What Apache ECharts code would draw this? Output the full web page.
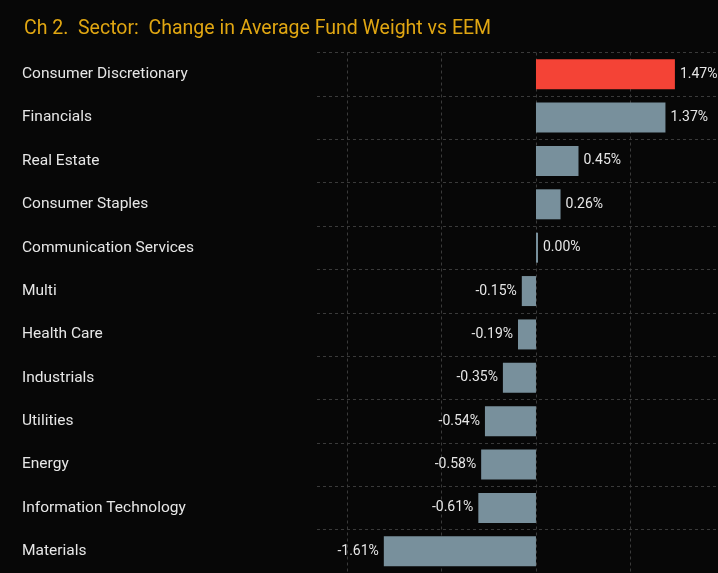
<!DOCTYPE html>
<html>
<head>
<meta charset="utf-8">
<script src="https://cdn.jsdelivr.net/npm/echarts@6/dist/echarts.min.js"></script>
<style>
  html, body { margin: 0; padding: 0; background: #070707; }
  #chart { width: 718px; height: 573px; }
</style>
</head>
<body>
<div id="chart"></div>
<script>
let sectors = ['Consumer Discretionary', 'Financials', 'Real Estate', 'Consumer Staples',
  'Communication Services', 'Multi', 'Health Care', 'Industrials', 'Utilities',
  'Energy', 'Information Technology', 'Materials']
let weightChange = [1.47, 1.37, 0.45, 0.26, 0.00, -0.15, -0.19, -0.35, -0.54, -0.58, -0.61, -1.61]
let gridTicks = [-2, -1, 0, 1]
let highlight = 'Consumer Discretionary'

let chartTitle = 'Ch 2.  Sector:  Change in Average Fund Weight vs EEM'

let myChart = echarts.init(document.getElementById('chart'))

let barData = []
for (let i in weightChange) {
  let v = weightChange[i]
  barData.push({
    value: v,
    itemStyle: { color: sectors[i] === highlight ? '#f44336' : '#78909c' },
    label: { position: v < 0 ? 'left' : 'right' }
  })
}

let dashLine = { color: '#3a3a3a', type: [3, 3], width: 1 }

myChart.setOption({
  backgroundColor: '#070707',
  animation: false,
  title: {
    text: chartTitle,
    left: 19,
    top: 14,
    textStyle: {
      color: '#e0a612',
      fontFamily: 'Roboto',
      fontSize: 19.5,
      fontWeight: 'normal'
    }
  },
  grid: {
    left: 317,
    right: 0,
    top: 52.5,
    bottom: -1.2,
    containLabel: false
  },
  xAxis: {
    type: 'value',
    min: -2.317,
    max: 1.926,
    axisLine: { show: false },
    axisTick: { show: false },
    axisLabel: { show: false },
    splitLine: { show: false }
  },
  yAxis: {
    type: 'category',
    data: sectors,
    inverse: true,
    axisLine: { show: false },
    axisTick: { show: false },
    axisLabel: {
      align: 'left',
      margin: 295,
      color: '#e6e6e6',
      fontFamily: 'Roboto',
      fontSize: 15.5
    },
    splitLine: { show: true, lineStyle: dashLine }
  },
  series: [{
    type: 'bar',
    data: barData,
    barWidth: 30,
    barMinHeight: 2,
    z: 3,
    label: {
      show: true,
      distance: 5,
      color: '#e6e6e6',
      fontFamily: 'Roboto',
      fontSize: 14,
      formatter: function (p) { return p.value.toFixed(2) + '%' }
    }
  }, {
    // vertical grid lines, drawn behind the bars
    type: 'line',
    data: [],
    z: 1,
    markLine: {
      silent: true,
      z: 1,
      symbol: 'none',
      label: { show: false },
      lineStyle: dashLine,
      data: gridTicks.map(function (t) { return { xAxis: t } })
    }
  }]
})
</script>
</body>
</html>
